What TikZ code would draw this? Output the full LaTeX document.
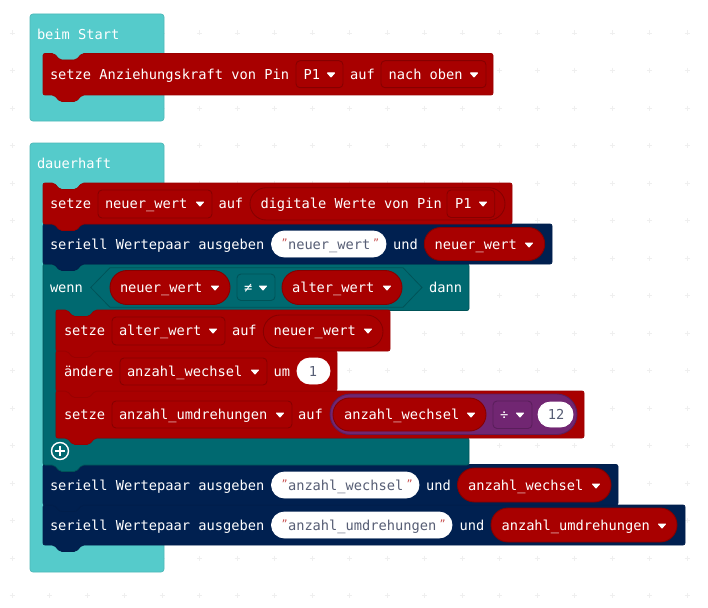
\documentclass[tikz,border=0pt]{standalone}
\usepackage{fontspec}
\setmainfont{DejaVu Sans Mono}
\definecolor{hatc}{HTML}{55CBCB}
\definecolor{hatb}{HTML}{4DB8B8}
\definecolor{redc}{HTML}{A80000}
\definecolor{redb}{HTML}{860000}
\definecolor{navyc}{HTML}{002050}
\definecolor{navyb}{HTML}{001B44}
\definecolor{tealc}{HTML}{006970}
\definecolor{tealb}{HTML}{005358}
\definecolor{purc}{HTML}{712672}
\definecolor{purb}{HTML}{5A1E5B}
\definecolor{strc}{HTML}{575E75}
\definecolor{quoc}{HTML}{C85050}
\definecolor{gridc}{HTML}{EFEFEF}
\tikzset{
  x=1pt,y=-1pt,
  txt/.style={anchor=base west,inner sep=0pt,outer sep=0pt,text=white,font=\fontsize{13.7}{16}\selectfont},
  strtxt/.style={txt,text=strc},
  quotetxt/.style={txt,text=quoc,font=\fontsize{10}{12}\selectfont},
  midtxt/.style={strtxt,anchor=base},
  blockshape/.style={rounded corners=2pt,line width=0.7pt},
  fieldshape/.style={rounded corners=4pt,line width=0.9pt},
  pillshape/.style={line width=0.9pt},
  tri/.style={fill=white,draw=white,line width=1pt,line join=round},
  gridmark/.style={draw=gridc,line width=0.8pt},
}
\newcommand{\stmtblock}[6]{%
  \path[blockshape,fill=#5,draw=#5!60!#6] (#1,#2) -- ({#1+11},#2) -- ({#1+17},{#2+6.5}) -- ({#1+33},{#2+6.5}) -- ({#1+39},#2)
   -- (#3,#2) -- (#3,#4) -- ({#1+39},#4) -- ({#1+33},{#4+6.5}) -- ({#1+17},{#4+6.5}) -- ({#1+11},#4) -- (#1,#4) -- cycle;}
\newcommand{\ddfield}[6]{\path[fieldshape,fill=#5,draw=#6] (#1,#2) rectangle (#3,#4);}
\newcommand{\pill}[6]{%
  \pgfmathsetmacro{\pr}{(#4-#2)/2}%
  \path[pillshape,fill=#5,draw=#6,rounded corners=\pr pt] (#1,#2) rectangle (#3,#4);}
\newcommand{\ddtri}[2]{\path[tri] ({#1-3.5},{#2-6}) -- ({#1+3.5},{#2-6}) -- (#1,{#2-2}) -- cycle;}
\newcommand{\lbl}[4]{\node[txt] (#1) at (#2,{#3+0.3}) {#4};}
\begin{document}
\begin{tikzpicture}
\useasboundingbox (0,0) rectangle (708,607);
\fill[white] (0,0) rectangle (708,607);
\foreach \gx in {0,...,18}{\foreach \gy in {0,...,15}{
  \pgfmathsetmacro{\px}{12+37.5*\gx}\pgfmathsetmacro{\py}{33+37.5*\gy}
  \draw[gridmark] ({\px-2.5},\py) -- ({\px+2.5},\py) ({\px},{\py-2.5}) -- ({\px},{\py+2.5});
}}
\path[blockshape,rounded corners=3pt,fill=hatc,draw=hatb] (30,14) rectangle (164,121);
\path[blockshape,rounded corners=3pt,fill=hatc,draw=hatb] (30,143) rectangle (164,572);
\lbl{hatA}{37}{39}{beim Start}
\stmtblock{43}{53.5}{493}{95}{redc}{redb}
\lbl{a1}{50}{79}{setze Anziehungskraft von Pin}
\ddfield{296}{60.7}{343}{87.7}{redc}{redb}
\lbl{a2}{303.5}{79}{P1}\ddtri{331}{79}
\lbl{a3}{350}{79}{auf}
\ddfield{381}{60.7}{486}{87.7}{redc}{redb}
\lbl{a4}{388.5}{79}{nach oben}\ddtri{474}{79}
\lbl{hatB}{37}{168}{dauerhaft}

\stmtblock{43}{505}{685}{545}{navyc}{navyb}
\lbl{i1}{50}{530}{seriell Wertepaar ausgeben}
\pill{271.5}{512}{452}{538}{white}{white}
\node[quotetxt] (i2) at (281.5,527) {"};
\node[strtxt] (i3) at (288,530.3) {anzahl\_umdrehungen};
\node[quotetxt] (i4) at (439.5,527) {"};
\lbl{i5}{459.5}{530}{und}
\pill{491}{508}{677}{542}{redc}{redb}
\lbl{i6}{501.5}{530}{anzahl\_umdrehungen}\ddtri{662}{530}

\stmtblock{43}{464.5}{618}{505}{navyc}{navyb}
\lbl{h1}{50}{490}{seriell Wertepaar ausgeben}
\pill{271.5}{472}{419}{498}{white}{white}
\node[quotetxt] (h2) at (281.5,487) {"};
\node[strtxt] (h3) at (288,490.3) {anzahl\_wechsel};
\node[quotetxt] (h4) at (406.5,487) {"};
\lbl{h5}{426}{490}{und}
\pill{457.5}{468}{611}{502}{redc}{redb}
\lbl{h6}{468}{490}{anzahl\_wechsel}\ddtri{596}{490}

\path[blockshape,fill=tealc,draw=tealb] (43,264) -- (54,264) -- (60,270.5) -- (76,270.5) -- (82,264)
  -- (469,264) -- (469,310.5) -- (95,310.5) -- (89,317) -- (73,317) -- (67,310.5) -- (56,310.5)
  -- (56,438) -- (469,438) -- (469,465) -- (82,465) -- (76,471.5) -- (60,471.5) -- (54,465) -- (43,465) -- cycle;
\lbl{w1}{50}{292}{wenn}
\path[line width=0.8pt,draw=tealb,fill=tealc] (110,267.7) -- (403,267.7) -- (422,287.5) -- (403,307.3) -- (110,307.3) -- (90.7,287.5) -- cycle;
\pill{110}{270.5}{230}{304.5}{redc}{redb}
\lbl{w2}{120}{292}{neuer\_wert}\ddtri{215}{292}
\ddfield{237}{274}{275}{300.5}{tealc}{tealb}
\lbl{w3}{244}{292}{≠}\ddtri{263}{292}
\pill{282}{270.5}{402}{304.5}{redc}{redb}
\lbl{w4}{292}{292}{alter\_wert}\ddtri{387}{292}
\lbl{w5}{429}{292}{dann}
\draw[white,line width=1.4pt,fill=tealc] (60,451) circle (8.5);
\draw[white,line width=2.6pt] (55,451) -- (65,451) (60,446) -- (60,456);

\stmtblock{56}{391}{584}{438}{redc}{redb}
\lbl{s1}{64}{419}{setze}
\ddfield{112}{401}{292}{428}{redc}{redb}
\lbl{s2}{119}{419}{anzahl\_umdrehungen}\ddtri{280}{419}
\lbl{s3}{298}{419}{auf}
\pill{330}{394}{577}{434.5}{purc}{purb}
\pill{333}{398}{486}{431}{redc}{redb}
\lbl{s4}{344}{419}{anzahl\_wechsel}\ddtri{471}{419}
\ddfield{493}{401}{532}{428.5}{purc}{purb}
\lbl{s5}{500}{419}{÷}\ddtri{520}{419}
\pill{538}{402}{573}{427}{white}{white}
\node[midtxt] (s6) at (556,419.3) {12};

\stmtblock{56}{351}{337}{391}{redc}{redb}
\lbl{r1}{64}{376}{ändere}
\ddfield{120}{358}{267}{385}{redc}{redb}
\lbl{r2}{127}{376}{anzahl\_wechsel}\ddtri{255}{376}
\lbl{r3}{273.5}{376}{um}
\pill{297}{358}{330}{384}{white}{white}
\node[midtxt] (r4) at (313,376.3) {1};

\stmtblock{56}{310}{390}{351}{redc}{redb}
\lbl{q1}{64}{335}{setze}
\ddfield{112}{317}{225}{345}{redc}{redb}
\lbl{q2}{119}{335}{alter\_wert}\ddtri{213}{335}
\lbl{q3}{232}{335}{auf}
\pill{263.3}{315}{383}{348}{redc}{redb}
\lbl{q4}{273.5}{335}{neuer\_wert}\ddtri{368}{335}

\stmtblock{43}{224}{552}{264}{navyc}{navyb}
\lbl{p1}{50}{249}{seriell Wertepaar ausgeben}
\pill{271.5}{231}{386}{257}{white}{white}
\node[quotetxt] (p2) at (281.5,246) {"};
\node[strtxt] (p3) at (288,249.3) {neuer\_wert};
\node[quotetxt] (p4) at (373,246) {"};
\lbl{p5}{393}{249}{und}
\pill{424.3}{227.5}{544.7}{260.5}{redc}{redb}
\lbl{p6}{434.5}{249}{neuer\_wert}\ddtri{529}{249}

\stmtblock{43}{183}{512}{224}{redc}{redb}
\lbl{o1}{50}{208}{setze}
\ddfield{98}{190}{212}{218}{redc}{redb}
\lbl{o2}{105}{208}{neuer\_wert}\ddtri{200}{208}
\lbl{o3}{218.5}{208}{auf}
\pill{250}{187.7}{505}{220}{redc}{redb}
\lbl{o4}{260.5}{208}{digitale Werte von Pin}
\ddfield{447}{190}{494.7}{217.5}{redc}{redb}
\lbl{o5}{455}{208}{P1}\ddtri{483}{208}
\end{tikzpicture}
\end{document}
